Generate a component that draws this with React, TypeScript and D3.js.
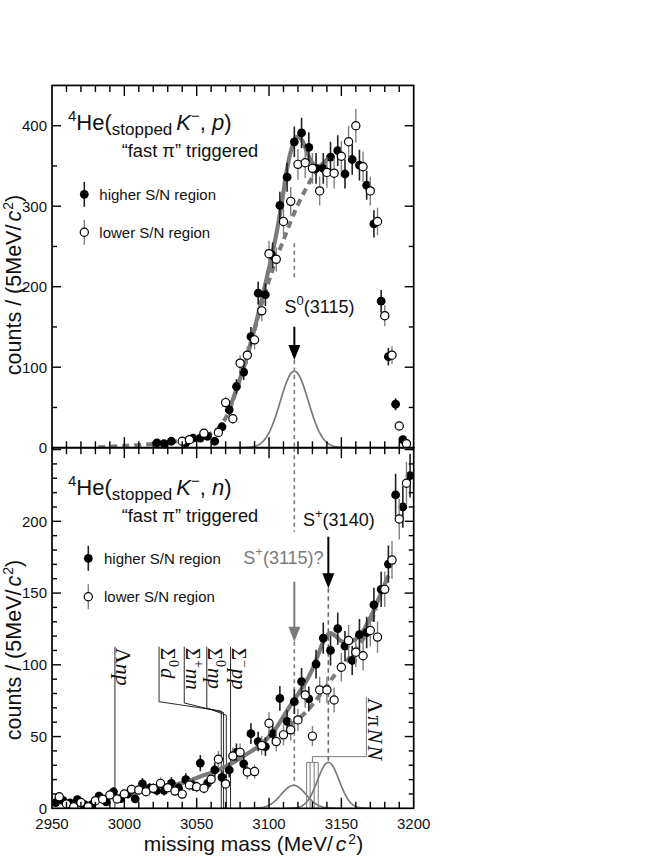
import React from "react";
import * as d3 from "d3";

type P3 = [number, number, number];
type P2 = [number, number];

// ---------------- data ----------------
const massMajorTicks = [2950, 3000, 3050, 3100, 3150, 3200];
const topCountTicks = [0, 100, 200, 300, 400];
const bottomCountTicks = [0, 50, 100, 150, 200];

// 4He(K-,p): [mass, counts, error]
const topHigh: P3[] = [
  [3022.5, 6, 2.5], [3027.5, 5, 2.3], [3032.5, 8, 3], [3042.5, 6, 2.5], [3047.5, 12, 3.5],
  [3052.5, 12, 3.5], [3057.5, 14, 3.8], [3062.5, 8, 3], [3067.5, 26, 5], [3072.5, 47, 7],
  [3077.5, 76, 9], [3082.5, 94, 10], [3087.5, 138, 12], [3092.5, 192, 14], [3097.5, 190, 14],
  [3102.5, 239, 16], [3107.5, 301, 17], [3112.5, 336, 18], [3117.5, 380, 19], [3122.5, 391, 19],
  [3127.5, 373, 19], [3132.5, 347, 19], [3137.5, 347, 19], [3142.5, 361, 19], [3147.5, 369, 19],
  [3152.5, 340, 18], [3157.5, 358, 19], [3162.5, 351, 19], [3167.5, 326, 18], [3172.5, 278, 17],
  [3177.5, 182, 14], [3182.5, 113, 11], [3187.5, 54, 7.5], [3192.5, 10, 3.2],
];
const topLow: P3[] = [
  [3040, 8, 3], [3045, 10, 3.2], [3055, 18, 4.2], [3065, 19, 4.4], [3070, 56, 7.5],
  [3075, 36, 6], [3080, 105, 10], [3085, 115, 11], [3090, 134, 12], [3095, 170, 13],
  [3100, 241, 16], [3105, 234, 15], [3110, 281, 17], [3115, 306, 18], [3120, 352, 19],
  [3125, 354, 19], [3130, 347, 19], [3135, 319, 18], [3140, 342, 19], [3145, 341, 19],
  [3150, 362, 19], [3155, 380, 20], [3160, 400, 21], [3165, 349, 19], [3170, 319, 18],
  [3175, 281, 17], [3180, 164, 13], [3185, 115, 11], [3190, 27, 5.2], [3195, 5, 2.3],
];
// 4He(K-,n)
const botHigh: P3[] = [
  [2952.5, 4, 2], [2957.5, 5.5, 2.4], [2962.5, 3.7, 2], [2967.5, 6, 2.5], [2972.5, 2.5, 1.6],
  [2977.5, 2.5, 1.6], [2982.5, 8.5, 3], [2987.5, 4.5, 2.1], [2992.5, 11.5, 3.4], [2997.5, 6.7, 2.6],
  [3002.5, 10, 3.2], [3007.5, 6.5, 2.6], [3012.5, 17, 4.1], [3017.5, 14, 3.7], [3022.5, 12.5, 3.5],
  [3027.5, 12.5, 3.5], [3032.5, 17.4, 4.2], [3037.5, 14, 3.7], [3042.5, 20, 4.5], [3047.5, 16, 4],
  [3052.5, 31.5, 5.6], [3057.5, 17.4, 4.2], [3062.5, 26.7, 5.2], [3067.5, 21.6, 4.6], [3072.5, 26.7, 5.2],
  [3077.5, 39, 6.2], [3082.5, 31, 5.6], [3087.5, 52, 7.2], [3092.5, 46.5, 6.8], [3097.5, 43, 6.6],
  [3102.5, 52, 7.2], [3107.5, 76.6, 8.7], [3112.5, 60.5, 7.8], [3117.5, 74.3, 8.6], [3122.5, 88.3, 9.4],
  [3127.5, 76.2, 8.7], [3132.5, 100.5, 10], [3137.5, 118.6, 10.9], [3142.5, 110, 10.5], [3147.5, 125.2, 11.2],
  [3152.5, 113, 10.6], [3157.5, 103, 10.1], [3162.5, 121, 11], [3167.5, 122.5, 11], [3172.5, 141.8, 11.9],
  [3177.5, 152.6, 12.3], [3182.5, 170.2, 13], [3187.5, 218.4, 14.8], [3192.5, 210, 14.5], [3197.5, 231.8, 15.2],
];
const botLow: P3[] = [
  [2955, 8, 2.8], [2960, 3, 1.7], [2965, 1, 1], [2970, 4, 2], [2975, 1, 1],
  [2980, 5.3, 2.3], [2985, 6.3, 2.5], [2990, 9.3, 3], [2995, 6.5, 2.5], [3000, 10, 3.2],
  [3005, 13.2, 3.6], [3010, 12.8, 3.6], [3015, 11.6, 3.4], [3020, 13.9, 3.7], [3025, 17.4, 4.2],
  [3030, 14.4, 3.8], [3035, 12, 3.5], [3040, 9.9, 3.1], [3045, 16.3, 4], [3050, 15, 3.9],
  [3055, 14, 3.7], [3060, 20.2, 4.5], [3065, 34.2, 5.8], [3070, 17, 4.1], [3075, 36.4, 6],
  [3080, 39, 6.2], [3085, 25.3, 5], [3090, 25.6, 5], [3095, 43.7, 6.6], [3100, 59.3, 7.7],
  [3105, 46.5, 6.8], [3110, 51.2, 7.2], [3115, 54.7, 7.4], [3120, 61.6, 7.8], [3125, 79, 8.9],
  [3130, 50.3, 7.1], [3135, 82.5, 9.1], [3140, 82.5, 9.1], [3145, 75.5, 8.7], [3150, 98.3, 9.9],
  [3155, 116.9, 10.8], [3160, 108.8, 10.4], [3165, 106.3, 10.3], [3170, 123.9, 11.1], [3175, 119.3, 10.9],
  [3180, 152.6, 12.4], [3185, 173, 13.2], [3190, 201.6, 14.2], [3195, 226.5, 15],
];

// fit curves
const topFit: P2[] = [
  [3072, 45], [3077, 70], [3082, 97], [3087, 128], [3092, 162], [3097, 200], [3101, 231],
  [3105, 265], [3109, 306], [3112, 342], [3115.5, 371], [3119, 386], [3122, 384], [3125, 373],
  [3128.5, 358], [3132, 350], [3135, 350], [3138, 354], [3141, 360],
];
const topBackground: P2[] = [
  [2982, 0.5], [2992, 1.5], [3002, 2.5], [3012, 3.5], [3022, 5], [3032, 7], [3042, 9.5],
  [3052, 13], [3060, 18], [3066, 26], [3072, 44], [3077, 69], [3082, 96], [3087, 127],
  [3092, 159], [3097, 192], [3101, 213], [3105, 235], [3110, 258], [3115, 281], [3120, 302],
  [3125, 320], [3130, 336], [3134.5, 348],
];
const botFit: P2[] = [
  [2995, 8], [3005, 10], [3015, 12.5], [3025, 14.5], [3035, 16.5], [3043, 18.5], [3052, 22],
  [3062, 25.5], [3070, 29], [3077, 33], [3085, 38], [3094, 44], [3100, 50], [3105, 56],
  [3110, 64], [3115, 72], [3121, 81], [3126, 89], [3130, 97], [3134, 107], [3138, 117],
  [3142, 122], [3146, 120], [3150, 116.5], [3155, 115.5], [3160, 118], [3164, 122],
  [3168, 129], [3172, 137], [3177, 149], [3182, 161],
];
const botBackground: P2[] = [
  [3115, 58.5], [3120, 62], [3126, 67.5], [3131, 73.5], [3137.5, 82], [3144, 91], [3149, 97],
  [3154, 103], [3158, 108.5], [3163, 115], [3167.5, 122], [3171, 131], [3174, 139],
];

// fitted Gaussian peaks
const topPeaks = [{ center: 3117.5, amp: 95, sigma: 9.7 }];
const botPeaks = [
  { center: 3117, amp: 16, sigma: 8.5 },
  { center: 3141, amp: 32, sigma: 7.5 },
];

// thresholds (MeV)
const lambdaNpThreshold = 2993.5;
const sigmaThresholds = [3067, 3068.6, 3070.5, 3073.4];
const sigmaLabels = [
  { sym: "Σ", sup: "0", rest: "d" },
  { sym: "Σ", sup: "+", rest: "nn" },
  { sym: "Σ", sup: "0", rest: "np" },
  { sym: "Σ", sup: "−", rest: "pp" },
];
const lambdaPiNNThresholds = [3126, 3128.4, 3131.2, 3134];

// ---------------- layout ----------------
const SANS = "'Liberation Sans', Arial, Helvetica, sans-serif";
const SERIF = "'Liberation Serif', 'Times New Roman', serif";
const GRAY = "#7a7a7a";

const xS = d3.scaleLinear().domain([2950, 3200]).range([52, 413.7]);
const yT = d3.scaleLinear().domain([0, 450]).range([447.7, 85.45]);
const yB = d3.scaleLinear().domain([0, 251.3]).range([808.3, 447.7]);

type Scale = d3.ScaleLinear<number, number>;

const MAJ = 9;
const MIN = 5;

function Axes({ y, majorStep, minorStep, labels }: { y: Scale; majorStep: number; minorStep: number; labels: number[] }) {
  const [d0, d1] = y.domain();
  const top = y(d1);
  const bot = y(d0);
  const x0 = xS(2950);
  const x1 = xS(3200);
  const els: React.ReactNode[] = [];
  let k = 0;
  for (let v = d0 + minorStep; v < d1; v += minorStep) {
    const isMaj = Math.abs(v / majorStep - Math.round(v / majorStep)) < 1e-6;
    const L = isMaj ? MAJ : MIN;
    els.push(<line key={"yl" + k} x1={x0} x2={x0 + L} y1={y(v)} y2={y(v)} />);
    els.push(<line key={"yr" + k} x1={x1 - L} x2={x1} y1={y(v)} y2={y(v)} />);
    k++;
  }
  d3.range(2960, 3200, 10).forEach((m, i) => {
    const isMaj = massMajorTicks.includes(m);
    const L = isMaj ? MAJ + 1.5 : MIN + 1.5;
    els.push(<line key={"xt" + i} x1={xS(m)} x2={xS(m)} y1={top} y2={top + L} />);
    els.push(<line key={"xb" + i} x1={xS(m)} x2={xS(m)} y1={bot} y2={bot - L} />);
  });
  return (
    <g>
      <g stroke="#000" strokeWidth={1.4}>{els}</g>
      <rect x={x0} y={top} width={x1 - x0} height={bot - top} fill="none" stroke="#000" strokeWidth={1.7} />
      <g fontFamily={SANS} fontSize={15} textAnchor="end" fill="#111">
        {labels.map((v) => (
          <text key={v} x={47} y={y(v) + 5.3}>{v}</text>
        ))}
      </g>
    </g>
  );
}

function Points({ data, y, filled }: { data: P3[]; y: Scale; filled: boolean }) {
  return (
    <g>
      <g stroke={filled ? "#222" : "#808080"} strokeWidth={filled ? 1.6 : 1.4}>
        {data.map((d, i) => (
          <line key={i} x1={xS(d[0])} x2={xS(d[0])} y1={y(d[1] - d[2])} y2={y(d[1] + d[2])} />
        ))}
      </g>
      {data.map((d, i) => (
        <circle key={i} cx={xS(d[0])} cy={y(d[1])} r={filled ? 4.4 : 4.1}
          fill={filled ? "#000" : "#fff"} stroke="#000" strokeWidth={filled ? 0 : 1.2} />
      ))}
    </g>
  );
}

function curvePath(pts: P2[], y: Scale) {
  return d3.line<P2>().x((d) => xS(d[0])).y((d) => y(d[1])).curve(d3.curveCatmullRom.alpha(0.5))(pts) || "";
}

function gaussPath(p: { center: number; amp: number; sigma: number }, y: Scale) {
  const pts: P2[] = d3
    .range(p.center - 4 * p.sigma, p.center + 4 * p.sigma + 0.01, 0.5)
    .map((m) => [m, p.amp * Math.exp(-0.5 * ((m - p.center) / p.sigma) ** 2)] as P2);
  return d3.line<P2>().x((d) => xS(d[0])).y((d) => y(d[1]))(pts) || "";
}

function Arrow({ x, y1, y2, color }: { x: number; y1: number; y2: number; color: string }) {
  const head = 15;
  const hw = 6;
  return (
    <g>
      <line x1={x} x2={x} y1={y1} y2={y2 - head + 2} stroke={color} strokeWidth={2} />
      <path d={`M${x - hw},${y2 - head} L${x + hw},${y2 - head} L${x},${y2} Z`} fill={color} />
    </g>
  );
}

function Legend({ cx, y1, y2, tx }: { cx: number; y1: number; y2: number; tx: number }) {
  return (
    <g fontFamily={SANS} fontSize={15} fill="#111">
      <line x1={cx} x2={cx} y1={y1 - 12.5} y2={y1 + 12.5} stroke="#222" strokeWidth={1.6} />
      <circle cx={cx} cy={y1} r={4.4} fill="#000" />
      <text x={tx} y={y1 + 5.3}>higher S/N region</text>
      <line x1={cx} x2={cx} y1={y2 - 12.5} y2={y2 + 12.5} stroke="#808080" strokeWidth={1.4} />
      <circle cx={cx} cy={y2} r={4.1} fill="#fff" stroke="#000" strokeWidth={1.2} />
      <text x={tx} y={y2 + 5.3}>lower S/N region</text>
    </g>
  );
}

function Title({ x, y, last }: { x: number; y: number; last: string }) {
  return (
    <g fontFamily={SANS} fill="#111">
      <text x={x} y={y} fontSize={22}>
        <tspan fontSize={15} dy={-9}>4</tspan>
        <tspan dy={9}>He(</tspan>
        <tspan fontSize={17} dy={5}>stopped</tspan>
        <tspan dx={4} dy={-5} fontStyle="italic">K</tspan>
        <tspan fontSize={15} dy={-9}>−</tspan>
        <tspan dy={9}>, </tspan>
        <tspan fontStyle="italic">{last}</tspan>
        <tspan>)</tspan>
      </text>
      <text x={x + 53.7} y={y + 26.7} fontSize={18.3}>“fast π” triggered</text>
    </g>
  );
}

function YLabel({ cy }: { cy: number }) {
  return (
    <text transform={`translate(21,${cy}) rotate(-90)`} textAnchor="middle" fontFamily={SANS} fontSize={21.5} fill="#111">
      counts / (5MeV/<tspan dx={3} fontStyle="italic">c</tspan>
      <tspan fontSize={14} dy={-8} dx={1}>2</tspan>
      <tspan dy={8}>)</tspan>
    </text>
  );
}

export default function App() {
  const dotted = { stroke: GRAY, strokeWidth: 1.6, strokeDasharray: "4,3.5", fill: "none" };
  const x3115 = xS(3117.5);
  const x3140 = xS(3141);
  const lamX = xS(lambdaNpThreshold);
  const labelMasses = [3024, 3041.4, 3057, 3073.4];
  const kinkTop = [74.3, 73.4, 70, 0];
  const kinkBot = [67.8, 66.7, 64.8, 0];
  const piTop = 32;
  const piStub = 36;
  const piLabelMass = 3167.3;
  const piLabelTop = 77.8;

  return (
    <svg width={664} height={860} viewBox="0 0 664 860"
      style={{ position: "absolute", left: 0, top: 0, background: "#fff" }}>
      <defs>
        <clipPath id="clipTop"><rect x={xS(2950)} y={yT(450)} width={xS(3200) - xS(2950)} height={yT(0) - yT(450)} /></clipPath>
        <clipPath id="clipBot"><rect x={xS(2950)} y={yB(251.3)} width={xS(3200) - xS(2950)} height={yB(0) - yB(251.3)} /></clipPath>
      </defs>

      {/* ---------- top panel ---------- */}
      <g clipPath="url(#clipTop)">
        {topPeaks.map((p, i) => (
          <path key={i} d={gaussPath(p, yT)} fill="none" stroke={GRAY} strokeWidth={1.7} />
        ))}
        <line x1={x3115} x2={x3115} y1={yT(254)} y2={yT(211)} {...dotted} />
        <line x1={x3115} x2={x3115} y1={yT(109)} y2={yT(0)} {...dotted} />
        <path d={curvePath(topBackground, yT)} fill="none" stroke={GRAY} strokeWidth={4} strokeDasharray="7,5" />
        <path d={curvePath(topFit, yT)} fill="none" stroke={GRAY} strokeWidth={4.2} strokeLinecap="round" />
        <Points data={topHigh} y={yT} filled={true} />
        <Points data={topLow} y={yT} filled={false} />
      </g>
      <Arrow x={x3115} y1={yT(150.3)} y2={yT(109)} color="#000" />
      <text x={284.5} y={yT(167)} fontFamily={SANS} fontSize={18} fill="#111">
        S<tspan fontSize={13} dy={-8}>0</tspan><tspan dy={8}>(3115)</tspan>
      </text>
      <Title x={68} y={130} last="p" />
      <Legend cx={84.3} y1={194.3} y2={232.3} tx={99.3} />
      <Axes y={yT} majorStep={100} minorStep={50} labels={topCountTicks} />
      <YLabel cy={285} />

      {/* ---------- bottom panel ---------- */}
      <g clipPath="url(#clipBot)">
        {/* thresholds */}
        <g stroke="#111" strokeWidth={0.9} fill="none">
          <line x1={lamX} x2={lamX} y1={yB(0)} y2={yB(112.6)} />
          {sigmaThresholds.map((m, i) => {
            const lx = xS(labelMasses[i]);
            const tx = xS(m);
            const d = kinkTop[i] > 0
              ? `M${lx},${yB(112.6)} L${lx},${yB(kinkTop[i])} L${tx},${yB(kinkBot[i])} L${tx},${yB(0)}`
              : `M${tx},${yB(112.6)} L${tx},${yB(0)}`;
            return <path key={i} d={d} />;
          })}
        </g>
        <g stroke={GRAY} strokeWidth={1} fill="none">
          {lambdaPiNNThresholds.map((m, i) => (
            <line key={i} x1={xS(m)} x2={xS(m)} y1={yB(0)} y2={yB(piTop)} />
          ))}
          <line x1={xS(lambdaPiNNThresholds[0])} x2={xS(lambdaPiNNThresholds[3])} y1={yB(piTop)} y2={yB(piTop)} />
          <path d={`M${xS(3130)},${yB(piTop)} L${xS(3130)},${yB(piStub)} L${xS(piLabelMass)},${yB(piStub)} L${xS(piLabelMass)},${yB(piLabelTop)}`} />
        </g>
        {botPeaks.map((p, i) => (
          <path key={i} d={gaussPath(p, yB)} fill="none" stroke={GRAY} strokeWidth={1.7} />
        ))}
        <line x1={x3115} x2={x3115} y1={yB(251.3)} y2={yB(192.8)} {...dotted} />
        <line x1={x3115} x2={x3115} y1={yB(116.1)} y2={yB(botPeaks[0].amp)} {...dotted} />
        <line x1={x3140} x2={x3140} y1={yB(153.3)} y2={yB(botPeaks[1].amp)} stroke="#666" strokeWidth={1.6} strokeDasharray="4.5,3.5" />
        <path d={curvePath(botBackground, yB)} fill="none" stroke={GRAY} strokeWidth={4} strokeDasharray="7,5" />
        <path d={curvePath(botFit, yB)} fill="none" stroke={GRAY} strokeWidth={4.2} strokeLinecap="round" />
        <Points data={botHigh} y={yB} filled={true} />
        <Points data={botLow} y={yB} filled={false} />
      </g>

      {/* threshold labels (rotated) */}
      <g fontFamily={SERIF} fontSize={22} fill="#111">
        <text transform={`translate(${lamX + 1.5},${yB(112.6) + 1}) rotate(90)`}>
          Λ<tspan fontStyle="italic">np</tspan>
        </text>
        {sigmaLabels.map((s, i) => (
          <text key={i} fontSize={21} transform={`translate(${xS(labelMasses[i]) + 1.5},${yB(112.6) + 1}) rotate(90)`}>
            {s.sym}<tspan fontSize={14} dy={-8}>{s.sup}</tspan>
            <tspan dy={8} dx={1} fontStyle="italic">{s.rest}</tspan>
          </text>
        ))}
        <text transform={`translate(${xS(piLabelMass) + 1.5},${yB(piLabelTop) + 1}) rotate(90)`} fontSize={22} letterSpacing={2}>
          Λπ<tspan fontStyle="italic">NN</tspan>
        </text>
      </g>

      <Arrow x={x3140} y1={yB(189.3)} y2={yB(153.3)} color="#000" />
      <Arrow x={x3115} y1={yB(157.9)} y2={yB(116.1)} color={GRAY} />
      <text x={303} y={yB(196.7)} fontFamily={SANS} fontSize={18} fill="#111">
        S<tspan fontSize={13} dy={-8}>+</tspan><tspan dy={8}>(3140)</tspan>
      </text>
      <text x={243.3} y={yB(170.2)} fontFamily={SANS} fontSize={18} fill={GRAY}>
        S<tspan fontSize={13} dy={-8}>+</tspan><tspan dy={8}>(3115)?</tspan>
      </text>
      <Title x={68} y={495} last="n" />
      <Legend cx={88.3} y1={558.3} y2={596.7} tx={104} />
      <Axes y={yB} majorStep={50} minorStep={10} labels={bottomCountTicks} />
      <YLabel cy={650} />

      {/* x axis labels */}
      <g fontFamily={SANS} fontSize={15} textAnchor="middle" fill="#111">
        {massMajorTicks.map((m) => (
          <text key={m} x={xS(m)} y={828.5}>{m}</text>
        ))}
      </g>
      <text x={253.5} y={851} textAnchor="middle" fontFamily={SANS} fontSize={21} fill="#111">
        missing mass (MeV/<tspan dx={3} fontStyle="italic">c</tspan>
        <tspan fontSize={14} dy={-7} dx={2}>2</tspan>
        <tspan dy={7}>)</tspan>
      </text>
    </svg>
  );
}
